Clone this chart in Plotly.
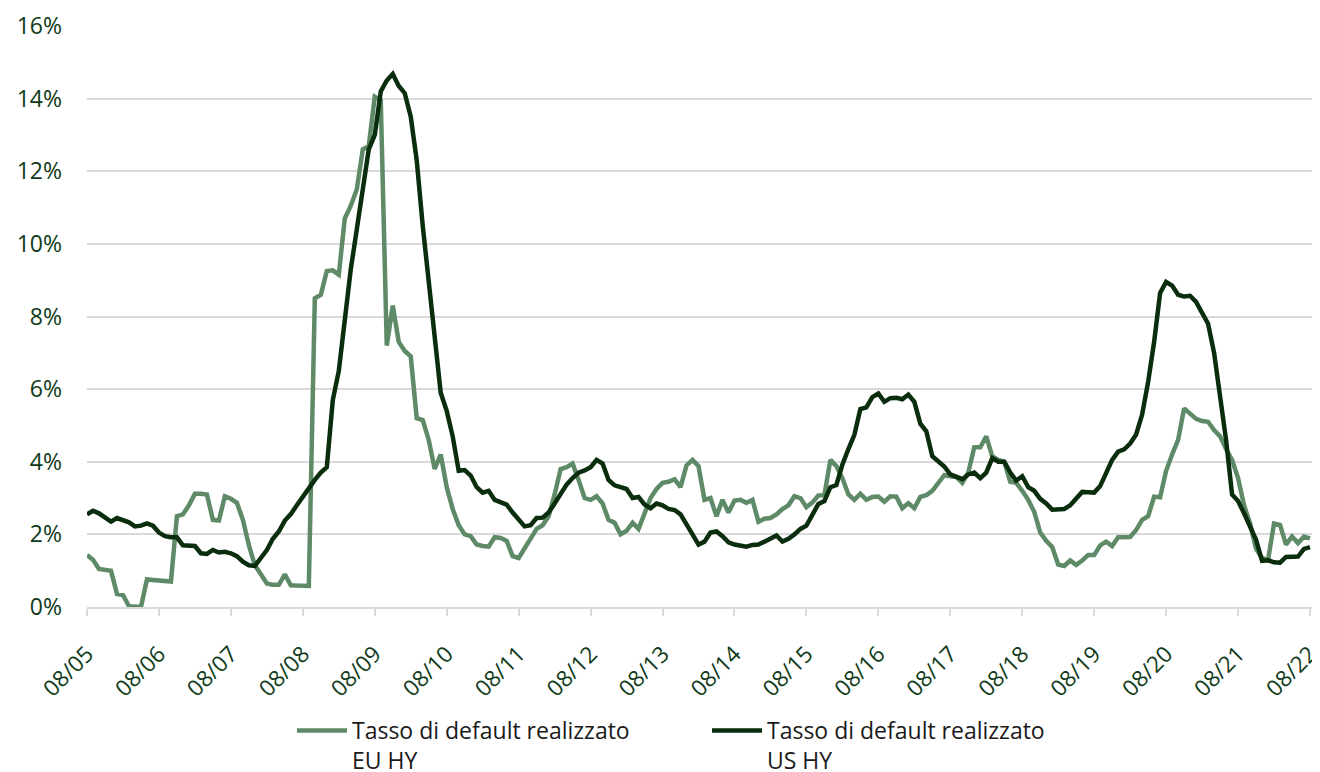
import plotly.graph_objects as go

# Monthly observations, Aug 2005 .. Aug 2022 (205 months)
tick_labels = ["08/05", "08/06", "08/07", "08/08", "08/09", "08/10", "08/11", "08/12", "08/13",
               "08/14", "08/15", "08/16", "08/17", "08/18", "08/19", "08/20", "08/21", "08/22"]

eu_hy = [
    1.43, 1.30, 1.05, 1.03, 1.00, 0.36, 0.33, 0.02, 0.00, 0.00,   # 0-9
    0.76, 0.74, 0.72, 0.70, 0.70, 2.50, 2.55, 2.80, 3.12, 3.12,   # 10-19
    3.10, 2.40, 2.38, 3.05, 2.98, 2.87, 2.40, 1.70, 1.15, 0.90,   # 20-29
    0.65, 0.61, 0.61, 0.90, 0.60, 0.59, 0.59, 0.58, 8.50, 8.60,   # 30-39
    9.25, 9.27, 9.15, 10.70, 11.05, 11.50, 12.60, 12.70, 14.05, 13.95,  # 40-49
    7.20, 8.30, 7.30, 7.05, 6.90, 5.20, 5.15, 4.60, 3.80, 4.20,   # 50-59
    3.30, 2.70, 2.25, 2.00, 1.95, 1.72, 1.68, 1.66, 1.92, 1.90,   # 60-69
    1.82, 1.40, 1.35, 1.60, 1.90, 2.15, 2.25, 2.50, 3.10, 3.80,   # 70-79
    3.85, 3.95, 3.50, 3.00, 2.95, 3.05, 2.85, 2.40, 2.32, 2.00,   # 80-89
    2.10, 2.32, 2.15, 2.60, 3.00, 3.25, 3.42, 3.45, 3.52, 3.30,   # 90-99
    3.90, 4.05, 3.88, 2.95, 3.00, 2.50, 2.95, 2.60, 2.93, 2.95,   # 100-109
    2.87, 2.95, 2.35, 2.43, 2.45, 2.55, 2.70, 2.80, 3.05, 3.00,   # 110-119
    2.75, 2.88, 3.07, 3.08, 4.05, 3.88, 3.55, 3.10, 2.95, 3.12,   # 120-129
    2.95, 3.03, 3.04, 2.90, 3.05, 3.04, 2.72, 2.86, 2.72, 3.03,   # 130-139
    3.08, 3.20, 3.40, 3.63, 3.60, 3.58, 3.42, 3.70, 4.40, 4.40,   # 140-149
    4.70, 4.15, 4.05, 4.00, 3.45, 3.42, 3.20, 2.95, 2.62, 2.05,   # 150-159
    1.82, 1.65, 1.17, 1.13, 1.28, 1.16, 1.28, 1.43, 1.43, 1.70,   # 160-169
    1.80, 1.68, 1.92, 1.92, 1.93, 2.12, 2.40, 2.50, 3.04, 3.02,   # 170-179
    3.75, 4.20, 4.60, 5.47, 5.33, 5.18, 5.12, 5.10, 4.87, 4.70,   # 180-189
    4.35, 4.05, 3.55, 2.80, 2.30, 1.60, 1.35, 1.29, 2.30, 2.26,   # 190-199
    1.72, 1.94, 1.76, 1.94, 1.89,                                  # 200-204
]

us_hy = [
    2.55, 2.65, 2.58, 2.45, 2.35, 2.45, 2.40, 2.33, 2.22, 2.24,   # 0-9
    2.30, 2.24, 2.05, 1.95, 1.92, 1.92, 1.70, 1.68, 1.68, 1.48,   # 10-19
    1.46, 1.57, 1.50, 1.52, 1.48, 1.40, 1.25, 1.15, 1.13, 1.35,   # 20-29
    1.57, 1.88, 2.08, 2.38, 2.56, 2.80, 3.05, 3.30, 3.50, 3.70,   # 30-39
    3.85, 5.70, 6.50, 7.90, 9.30, 10.40, 11.50, 12.60, 13.00, 14.20,  # 40-49
    14.50, 14.68, 14.35, 14.15, 13.50, 12.30, 10.50, 8.90, 7.30, 5.90,  # 50-59
    5.40, 4.70, 3.75, 3.77, 3.62, 3.30, 3.15, 3.20, 2.95, 2.87,   # 60-69
    2.82, 2.60, 2.42, 2.22, 2.25, 2.45, 2.46, 2.60, 2.85, 3.10,   # 70-79
    3.37, 3.55, 3.70, 3.76, 3.85, 4.05, 3.95, 3.50, 3.35, 3.30,   # 80-89
    3.25, 3.00, 3.03, 2.82, 2.72, 2.85, 2.80, 2.70, 2.67, 2.55,   # 90-99
    2.25, 2.00, 1.72, 1.80, 2.05, 2.08, 1.95, 1.78, 1.72, 1.68,   # 100-109
    1.66, 1.71, 1.72, 1.80, 1.90, 1.97, 1.80, 1.88, 2.00, 2.15,   # 110-119
    2.24, 2.55, 2.84, 2.92, 3.30, 3.36, 3.92, 4.35, 4.74, 5.45,   # 120-129
    5.50, 5.78, 5.88, 5.65, 5.75, 5.76, 5.72, 5.85, 5.65, 5.05,   # 130-139
    4.84, 4.15, 4.02, 3.87, 3.65, 3.59, 3.52, 3.65, 3.70, 3.55,   # 140-149
    3.70, 4.10, 4.00, 4.00, 3.70, 3.48, 3.60, 3.30, 3.20, 2.98,   # 150-159
    2.85, 2.68, 2.70, 2.70, 2.80, 3.00, 3.17, 3.16, 3.15, 3.33,   # 160-169
    3.70, 4.05, 4.28, 4.34, 4.50, 4.75, 5.30, 6.20, 7.30, 8.65,   # 170-179
    8.95, 8.85, 8.60, 8.55, 8.57, 8.40, 8.10, 7.80, 7.00, 5.90,   # 180-189
    4.60, 3.10, 2.92, 2.58, 2.20, 1.85, 1.27, 1.29, 1.23, 1.22,   # 190-199
    1.38, 1.40, 1.39, 1.60, 1.65,                                  # 200-204
]

months = list(range(len(eu_hy)))
tick_pos = [12 * i for i in range(len(tick_labels))]

EU_COLOR = "#5E8A68"
US_COLOR = "#0A2D0E"
TEXT_COLOR = "#0F3A19"
GRID = "#D9D9D9"
FONT = "Open Sans"

# the page body adds an 8px offset; size the figure so it fills the 1320x772 window
FIG_W, FIG_H = 1312, 764

fig = go.Figure()
fig.add_trace(go.Scatter(x=months, y=eu_hy, mode="lines",
                         name="Tasso di default realizzato<br>EU HY",
                         line=dict(color=EU_COLOR, width=4.5)))
fig.add_trace(go.Scatter(x=months, y=us_hy, mode="lines",
                         name="Tasso di default realizzato<br>US HY",
                         line=dict(color=US_COLOR, width=4.5)))

fig.update_layout(
    width=FIG_W, height=FIG_H,
    margin=dict(l=79, r=7, t=18, b=165, autoexpand=False),
    paper_bgcolor="white", plot_bgcolor="white",
    font=dict(family=FONT, size=23, color=TEXT_COLOR),
    showlegend=True,
    legend=dict(orientation="h", xref="container", yref="container",
                x=284 / FIG_W, xanchor="left", y=(FIG_H - 701) / FIG_H, yanchor="top",
                font=dict(family=FONT, size=23, color="#1A1A1A"),
                valign="top", itemwidth=50, entrywidth=350, entrywidthmode="pixels",
                traceorder="normal"),
    xaxis=dict(range=[0, 204.5], tickmode="array", tickvals=tick_pos, ticktext=tick_labels,
               tickangle=-45, showgrid=False, zeroline=False, automargin=False,
               showline=True, linecolor=GRID, linewidth=2,
               ticks="outside", ticklen=7, tickcolor=GRID, tickwidth=2,
               ticklabelstandoff=16, ticklabeloverflow="allow",
               tickfont=dict(family=FONT, size=22.5, color=TEXT_COLOR)),
    yaxis=dict(range=[0, 16], dtick=2, ticksuffix="%", showgrid=True, gridcolor=GRID,
               gridwidth=2, zeroline=False, showline=False, ticks="", automargin=False,
               ticklabelstandoff=24,
               tickfont=dict(family=FONT, size=23, color=TEXT_COLOR)),
)

fig.write_html("out.html")
